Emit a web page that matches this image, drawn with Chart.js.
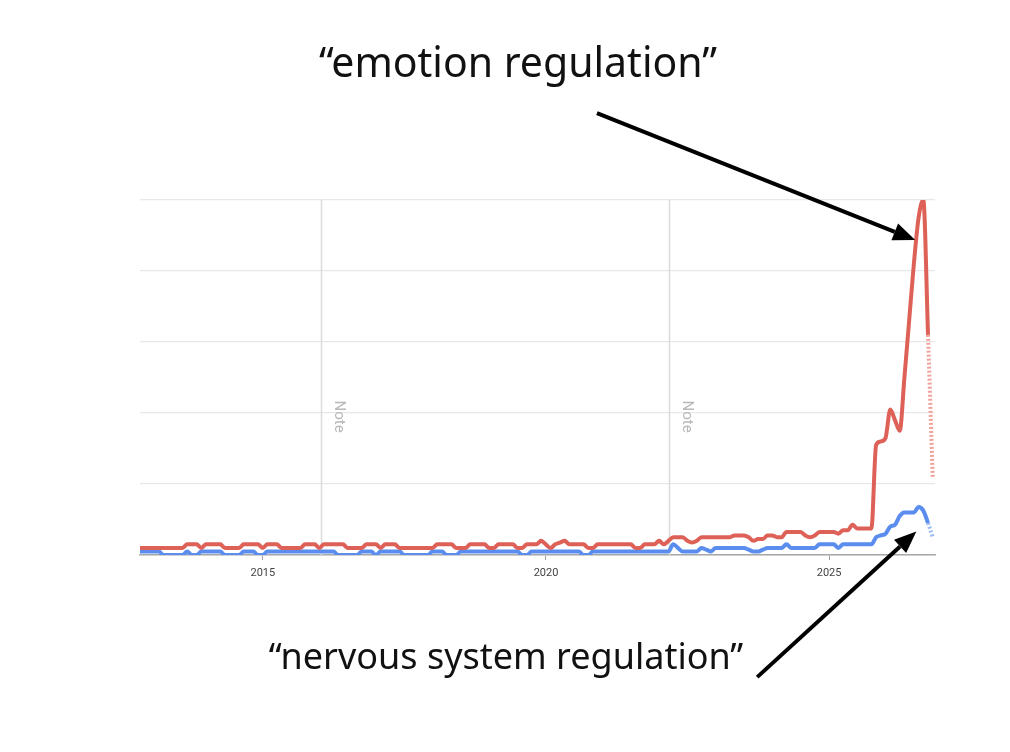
<!DOCTYPE html>
<html>
<head>
<meta charset="utf-8">
<script src="https://cdn.jsdelivr.net/npm/chart.js@4.4.1/dist/chart.umd.min.js"></script>
<style>
  body { margin: 0; background: #fff; }
  #wrap { position: relative; width: 1010px; height: 752px; }
  .label { position: absolute; left: 0; width: 1010px; text-align: center; font-family: "Noto Sans", sans-serif; color: #111; }
  #top { top: 33px; font-size: 41px; left: 13px; }
  #bottom { top: 631px; font-size: 36px; left: 1px; }
</style>
</head>
<body>
<div id="wrap">
  <canvas id="trendChart"></canvas>
  <div class="label" id="top">“emotion regulation”</div>
  <div class="label" id="bottom">“nervous system regulation”</div>
</div>
<script>
  // monthly series, first point at startYear
  var startYear = 2012.83;
  var tickYears = [2015, 2020, 2025];
  var noteYears = [2016.03, 2022.17];

  var emotion = [
    2,2,2,2,2,2,2,2,2,2,3,3,
    3,2,3,3,3,3,2,2,2,2,3,3,
    3,3,2,3,3,3,2,2,2,2,2,3,
    3,3,2,3,3,3,3,3,2,2,2,2,
    3,3,3,2,3,3,3,2,2,2,2,2,
    2,2,2,3,3,3,3,2,2,2,3,3,
    3,3,2,2,3,3,3,3,2,2,3,3,
    3,4,3,2,3,3.5,4,3,3,3,3,2,
    2,3,3,3,3,3,3,3,3,2,2,3,
    3,3,4,3,4,5,5,5,4,3.5,4,5,
    5,5,5,5,5,5,5.5,5.5,5.5,5,4,4.5,
    4.5,5.5,5.5,5,5,6.5,6.5,6.5,6.5,5.5,5,5.5,
    6.5,6.5,6.5,6.5,6,7,7,8.5,7.5,7.5,7.5,7.5,
    31,32,33,41,38,35,50,66,82,95,100,62,22
  ];
  var nervous = [
    1,1,1,1,1,0,0,0,0,0,1,0,
    0,1,1,1,1,1,0,0,0,0,1,1,
    1,0,0,1,1,1,1,1,1,1,1,1,
    1,1,1,1,1,1,0,0,0,0,0,1,
    1,1,0,1,1,1,1,1,0,0,0,0,
    0,0,1,1,1,0,0,0,1,1,1,1,
    1,1,1,1,1,1,1,1,1,0,0,1,
    1,1,1,1,1,1,1,1,1,1,0,0,
    1,1,1,1,1,1,1,1,1,1,1,1,
    1,1,1,1,1,3,2,1,1,1,1,2,
    1.5,1,2,2,2,2,2,2,2,1.5,1,1,
    1.5,2,2,2,2,3,2,2,2,2,2,2,
    3,3,3,3,2,3,3,3,3,3,3,3,
    5,5.5,6,8,8.5,11,12,12,12,13.5,12.5,9,5
  ];

  // arrow tail -> tip, in axis units (year, value)
  var arrows = [
    { from: [2020.90, 124.5], to: [2026.52, 88.7] },
    { from: [2023.73, -34.4], to: [2026.54, 6.6] }
  ];

  function toPoints(arr) {
    return arr.map(function (v, i) { return { x: startYear + i / 12, y: v }; });
  }

  // last segment is partial data, drawn dotted
  function dottedTail(color, light) {
    return {
      borderDash: function (c) { return c.p1DataIndex === c.chart.data.datasets[0].data.length - 1 ? [2, 2] : undefined; },
      borderColor: function (c) { return c.p1DataIndex === c.chart.data.datasets[0].data.length - 1 ? light : color; }
    };
  }

  var extras = {
    id: 'extras',
    beforeDatasetsDraw: function (chart) {
      var ctx = chart.ctx, xs = chart.scales.x, ys = chart.scales.y, area = chart.chartArea;
      ctx.save();
      noteYears.forEach(function (yr) {
        var px = Math.round(xs.getPixelForValue(yr)) + 0.5;
        ctx.strokeStyle = '#dcdcdc';
        ctx.lineWidth = 1.5;
        ctx.beginPath();
        ctx.moveTo(px, area.top);
        ctx.lineTo(px, area.bottom);
        ctx.stroke();
        ctx.save();
        ctx.translate(px + 17, ys.getPixelForValue(39));
        ctx.rotate(Math.PI / 2);
        ctx.fillStyle = '#b8b8b8';
        ctx.font = '15px Roboto';
        ctx.textAlign = 'center';
        ctx.textBaseline = 'middle';
        ctx.fillText('Note', 0, 0);
        ctx.restore();
      });
      ctx.restore();
    },
    afterDraw: function (chart) {
      var ctx = chart.ctx, xs = chart.scales.x, ys = chart.scales.y;
      ctx.save();
      arrows.forEach(function (a) {
        var x0 = xs.getPixelForValue(a.from[0]), y0 = ys.getPixelForValue(a.from[1]);
        var x1 = xs.getPixelForValue(a.to[0]), y1 = ys.getPixelForValue(a.to[1]);
        var ang = Math.atan2(y1 - y0, x1 - x0);
        var head = 22, half = 9;
        var bx = x1 - head * Math.cos(ang), by = y1 - head * Math.sin(ang);
        ctx.strokeStyle = '#000';
        ctx.fillStyle = '#000';
        ctx.lineWidth = 4;
        ctx.beginPath();
        ctx.moveTo(x0, y0);
        ctx.lineTo(bx, by);
        ctx.stroke();
        ctx.beginPath();
        ctx.moveTo(x1, y1);
        ctx.lineTo(bx + half * Math.sin(ang), by - half * Math.cos(ang));
        ctx.lineTo(bx - half * Math.sin(ang), by + half * Math.cos(ang));
        ctx.closePath();
        ctx.fill();
      });
      ctx.restore();
    }
  };

  var ctx = document.getElementById('trendChart').getContext('2d');
  var trendChart = new Chart(ctx, {
    type: 'line',
    data: {
      datasets: [{
        label: 'emotion regulation',
        data: toPoints(emotion),
        borderColor: '#de6158',
        borderWidth: 4,
        pointRadius: 0,
        cubicInterpolationMode: 'monotone',
        segment: dottedTail('#de6158', '#f0a39c')
      }, {
        label: 'nervous system regulation',
        data: toPoints(nervous),
        borderColor: '#5b8def',
        borderWidth: 4,
        pointRadius: 0,
        cubicInterpolationMode: 'monotone',
        segment: dottedTail('#5b8def', '#9dbcf5')
      }]
    },
    options: {
      responsive: true,
      maintainAspectRatio: false,
      animation: false,
      layout: { padding: { left: 140, right: 75, top: 200, bottom: 175 } },
      plugins: { legend: { display: false }, tooltip: { enabled: false } },
      scales: {
        x: {
          type: 'linear',
          min: 2012.83,
          max: 2026.87,
          afterBuildTicks: function (axis) {
            axis.ticks = tickYears.map(function (v) { return { value: v }; });
          },
          afterFit: function (axis) { axis.height = 22; },
          grid: { drawOnChartArea: false, drawTicks: true, tickLength: 5, color: '#a0a0a0' },
          border: { color: '#a8a8a8', width: 1.5 },
          ticks: {
            padding: 7,
            color: '#444',
            font: { family: 'Roboto', size: 11 },
            maxRotation: 0,
            callback: function (v) { return String(v); }
          }
        },
        y: {
          min: 0,
          max: 100,
          ticks: { display: false, stepSize: 20 },
          grid: { drawTicks: false, color: '#e8e8e8', lineWidth: 1.2 },
          border: { display: false }
        }
      }
    },
    plugins: [extras]
  });
</script>
</body>
</html>
